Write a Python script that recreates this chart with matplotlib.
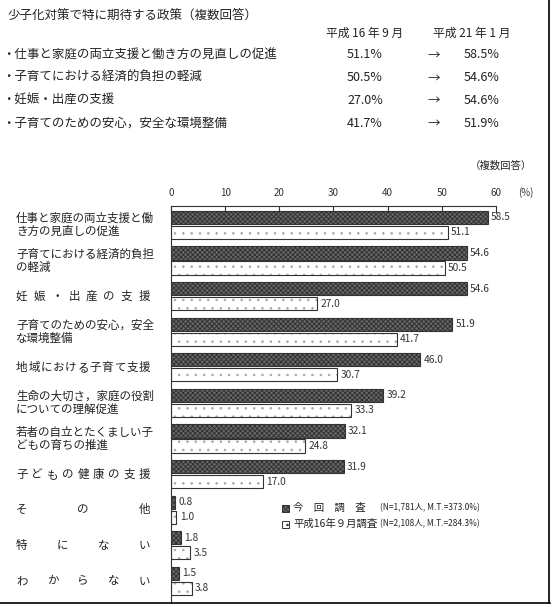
import matplotlib
matplotlib.use("Agg")
import matplotlib.pyplot as plt
from matplotlib.patches import Rectangle
from matplotlib.lines import Line2D
from matplotlib.transforms import blended_transform_factory
import numpy as np

plt.rcParams['font.family'] = ['Noto Sans CJK JP', 'DejaVu Sans']
plt.rcParams['hatch.linewidth'] = 0.6

# --- summary table at the top
title = "少子化対策で特に期待する政策（複数回答）"
head_old = "平成 16 年 9 月"
head_new = "平成 21 年 1 月"
top_items = ["仕事と家庭の両立支援と働き方の見直しの促進",
             "子育てにおける経済的負担の軽減",
             "妊娠・出産の支援",
             "子育てのための安心，安全な環境整備"]
top_old = [51.1, 50.5, 27.0, 41.7]
top_new = [58.5, 54.6, 54.6, 51.9]

# --- bar chart
labels = ["仕事と家庭の両立支援と働\nき方の見直しの促進",
          "子育てにおける経済的負担\nの軽減",
          "妊娠・出産の支援",
          "子育てのための安心，安全\nな環境整備",
          "地域における子育て支援",
          "生命の大切さ，家庭の役割\nについての理解促進",
          "若者の自立とたくましい子\nどもの育ちの推進",
          "子どもの健康の支援",
          "その他",
          "特にない",
          "わからない"]
now_vals = [58.5, 54.6, 54.6, 51.9, 46.0, 39.2, 32.1, 31.9, 0.8, 1.8, 1.5]
h16_vals = [51.1, 50.5, 27.0, 41.7, 30.7, 33.3, 24.8, 17.0, 1.0, 3.5, 3.8]
ticks = [0, 10, 20, 30, 40, 50, 60]
leg_now = ("今　回　調　査", "(N=1,781人, M.T.=373.0%)")
leg_old = ("平成16年９月調査", "(N=2,108人, M.T.=284.3%)")

W, H = 554, 607
fig = plt.figure(figsize=(W / 100, H / 100), dpi=100)
fig.patch.set_facecolor("white")
tc = "#222222"

def fx(px):
    return px / W

def fy(py):
    return 1 - py / H

fig.text(fx(8), fy(15), title, fontsize=9, color=tc, va="center", ha="left")
fig.text(fx(365), fy(33), head_old, fontsize=8.5, color=tc, va="center", ha="center")
fig.text(fx(472), fy(33), head_new, fontsize=8.5, color=tc, va="center", ha="center")
for i, (t, a, b) in enumerate(zip(top_items, top_old, top_new)):
    y = fy(55 + i * 22.8)
    fig.text(fx(2), y, "・" + t, fontsize=9, color=tc, va="center", ha="left")
    fig.text(fx(365), y, f"{a:.1f}%", fontsize=9, color=tc, va="center", ha="center")
    fig.text(fx(434), y, "→", fontsize=9, color=tc, va="center", ha="center")
    fig.text(fx(482), y, f"{b:.1f}%", fontsize=9, color=tc, va="center", ha="center")

fig.text(fx(532), fy(166), "（複数回答）", fontsize=7.5, color=tc, va="center", ha="right")

ax = fig.add_axes([fx(171), fy(603), fx(496) - fx(171), fy(206) - fy(603)])
y = np.arange(len(labels))
bh = 0.37
off = 0.21
dark_kw = dict(height=bh, color="#666666", hatch="xxxxxxx", edgecolor="#2e2e2e", linewidth=0, zorder=2)
light_kw = dict(height=bh, color="white", hatch="..", edgecolor="#a8a8a8", linewidth=0, zorder=2)
ax.barh(y - off, now_vals, **dark_kw)
ax.barh(y + off, h16_vals, **light_kw)
ax.barh(y - off, now_vals, height=bh, fill=False, edgecolor="#333333", linewidth=0.8, zorder=3)
ax.barh(y + off, h16_vals, height=bh, fill=False, edgecolor="#333333", linewidth=0.8, zorder=3)

for yi, v in zip(y, now_vals):
    ax.text(v + 0.6, yi - off, f"{v:.1f}", fontsize=7.3, color="#333333", va="center", ha="left")
for yi, v in zip(y, h16_vals):
    ax.text(v + 0.6, yi + off, f"{v:.1f}", fontsize=7.3, color="#333333", va="center", ha="left")

ax.set_xlim(0, 60)
ax.set_ylim(len(labels) - 1 + 0.62, -0.53)
ax.xaxis.tick_top()
ax.set_xticks(ticks)
ax.tick_params(axis="x", direction="in", length=5, width=0.8, labelsize=7, colors="#333333", pad=6)
ax.set_yticks([])
for s in ["right", "bottom"]:
    ax.spines[s].set_visible(False)
for s in ["top", "left"]:
    ax.spines[s].set_linewidth(0.8)
    ax.spines[s].set_color("#333333")
fig.text(fx(526), fy(193), "(%)", fontsize=7, color="#333333", va="center", ha="center")

# category labels, single-line ones spread across the label column
tr = blended_transform_factory(fig.transFigure, ax.transData)
x0, x1 = 16, 150
for yi, lab in zip(y, labels):
    if "\n" in lab:
        ax.text(fx(x0), yi, lab, transform=tr, fontsize=8.3, color=tc, va="center",
                ha="left", linespacing=1.0)
    else:
        n = len(lab)
        cw = 11.5
        xs = np.linspace(x0 + cw / 2, x1 - cw / 2, n)
        for ch, xc in zip(lab, xs):
            ax.text(fx(xc), yi, ch, transform=tr, fontsize=8.3, color=tc, va="center", ha="center")

# legend
for k, (lab, note, kw) in enumerate([(leg_now[0], leg_now[1], dark_kw), (leg_old[0], leg_old[1], light_kw)]):
    py = 508 + k * 16
    fig.add_artist(Rectangle((fx(282), fy(py + 3.5)), fx(7), 7 / H, transform=fig.transFigure,
                             facecolor=kw["color"], hatch=kw["hatch"], edgecolor="#333333", linewidth=0.7))
    fig.text(fx(293), fy(py), lab, fontsize=7.5, color=tc, va="center", ha="left")
    fig.text(fx(380), fy(py), note, fontsize=6, color=tc, va="center", ha="left")

# frame lines at the right and bottom edges
fig.add_artist(Line2D([0, fx(550)], [fy(603), fy(603)], transform=fig.transFigure, color="black", linewidth=1.2))
fig.add_artist(Line2D([fx(549), fx(549)], [fy(603), 1], transform=fig.transFigure, color="black", linewidth=1.2))

fig.savefig("out.png", dpi=100)
